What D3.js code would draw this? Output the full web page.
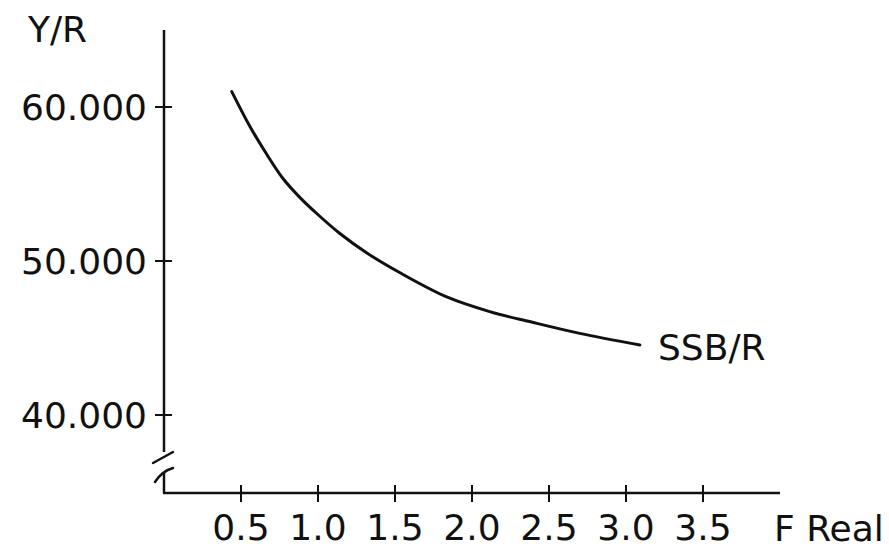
<!DOCTYPE html>
<html>
<head>
<meta charset="utf-8">
<script src="https://cdn.jsdelivr.net/npm/d3@7"></script>
<style>
  html, body { margin: 0; padding: 0; background: #fff; }
  svg { display: block; }
  text { font-family: "DejaVu Sans", sans-serif; fill: #111; }
</style>
</head>
<body>
<svg id="chart" width="889" height="551"></svg>
<script>
// ---- data ----
const fReal = [0.44, 0.56, 0.67, 0.77, 0.88, 0.99, 1.14, 1.32, 1.53, 1.84, 2.12, 2.38, 2.70, 3.09];
const ssbPerR = [61000, 58700, 56880, 55390, 54150, 53100, 51800, 50500, 49250, 47650, 46700, 46050, 45300, 44550];
const xTicks = [0.5, 1.0, 1.5, 2.0, 2.5, 3.0, 3.5];
const xTickLabels = ["0.5", "1.0", "1.5", "2.0", "2.5", "3.0", "3.5"];
const yTicks = [40000, 50000, 60000];
const yTickLabels = ["40.000", "50.000", "60.000"];
const seriesName = "SSB/R";
const xTitle = "F Real";
const yTitle = "Y/R";

// ---- layout ----
const svg = d3.select("#chart");
const x = d3.scaleLinear().domain([0, 4.0]).range([164, 780]);
const y = d3.scaleLinear().domain([40000, 60000]).range([415, 107]);
const axisY0 = 493;          // x-axis baseline (below the break)
const yTop = y(65000);       // top of y axis
const breakY = 452;          // where y axis stops above the break
const ink = "#111";

const g = svg.append("g");

// y axis line (upper part)
g.append("line")
  .attr("x1", x(0)).attr("x2", x(0))
  .attr("y1", yTop).attr("y2", breakY)
  .attr("stroke", ink).attr("stroke-width", 2.5);

// break marks
g.append("line")
  .attr("x1", x(0) - 11).attr("y1", breakY + 11)
  .attr("x2", x(0) + 9).attr("y2", breakY)
  .attr("stroke", ink).attr("stroke-width", 2.5).attr("stroke-linecap", "round");
g.append("path")
  .attr("d", `M${x(0) - 9},${breakY + 30} Q${x(0) - 2},${breakY + 19} ${x(0) + 9},${breakY + 16}`)
  .attr("fill", "none").attr("stroke", ink).attr("stroke-width", 2.5).attr("stroke-linecap", "round");
g.append("line")
  .attr("x1", x(0)).attr("x2", x(0))
  .attr("y1", breakY + 20).attr("y2", axisY0)
  .attr("stroke", ink).attr("stroke-width", 2.5);

// x axis line
g.append("line")
  .attr("x1", x(0) - 1).attr("x2", x(4.0))
  .attr("y1", axisY0).attr("y2", axisY0)
  .attr("stroke", ink).attr("stroke-width", 2.5);

// x ticks (crossing)
g.selectAll(".xt").data(xTicks).enter().append("line")
  .attr("x1", d => x(d)).attr("x2", d => x(d))
  .attr("y1", axisY0 - 8).attr("y2", axisY0 + 9)
  .attr("stroke", ink).attr("stroke-width", 2);
g.selectAll(".xl").data(xTicks).enter().append("text")
  .attr("x", d => x(d)).attr("y", 540)
  .attr("text-anchor", "middle")
  .attr("font-size", 36)
  .text((d, i) => xTickLabels[i]);

// y ticks (crossing)
g.selectAll(".yt").data(yTicks).enter().append("line")
  .attr("x1", x(0) - 9).attr("x2", x(0) + 8)
  .attr("y1", d => y(d)).attr("y2", d => y(d))
  .attr("stroke", ink).attr("stroke-width", 2);
g.selectAll(".yl").data(yTicks).enter().append("text")
  .attr("x", 147).attr("y", d => y(d) + 13)
  .attr("text-anchor", "end")
  .attr("font-size", 36)
  .text((d, i) => yTickLabels[i]);

// titles
g.append("text").attr("x", 28).attr("y", 42).attr("font-size", 36).text(yTitle);
g.append("text").attr("x", 774).attr("y", 541).attr("font-size", 36).text(xTitle);

// curve
const line = d3.line()
  .x((d, i) => x(fReal[i]))
  .y(d => y(d))
  .curve(d3.curveCatmullRom.alpha(0.5));
g.append("path")
  .datum(ssbPerR)
  .attr("d", line)
  .attr("fill", "none")
  .attr("stroke", ink)
  .attr("stroke-width", 3)
  .attr("stroke-linecap", "round");

// series label
g.append("text").attr("x", 658).attr("y", 360).attr("font-size", 36).text(seriesName);
</script>
</body>
</html>
